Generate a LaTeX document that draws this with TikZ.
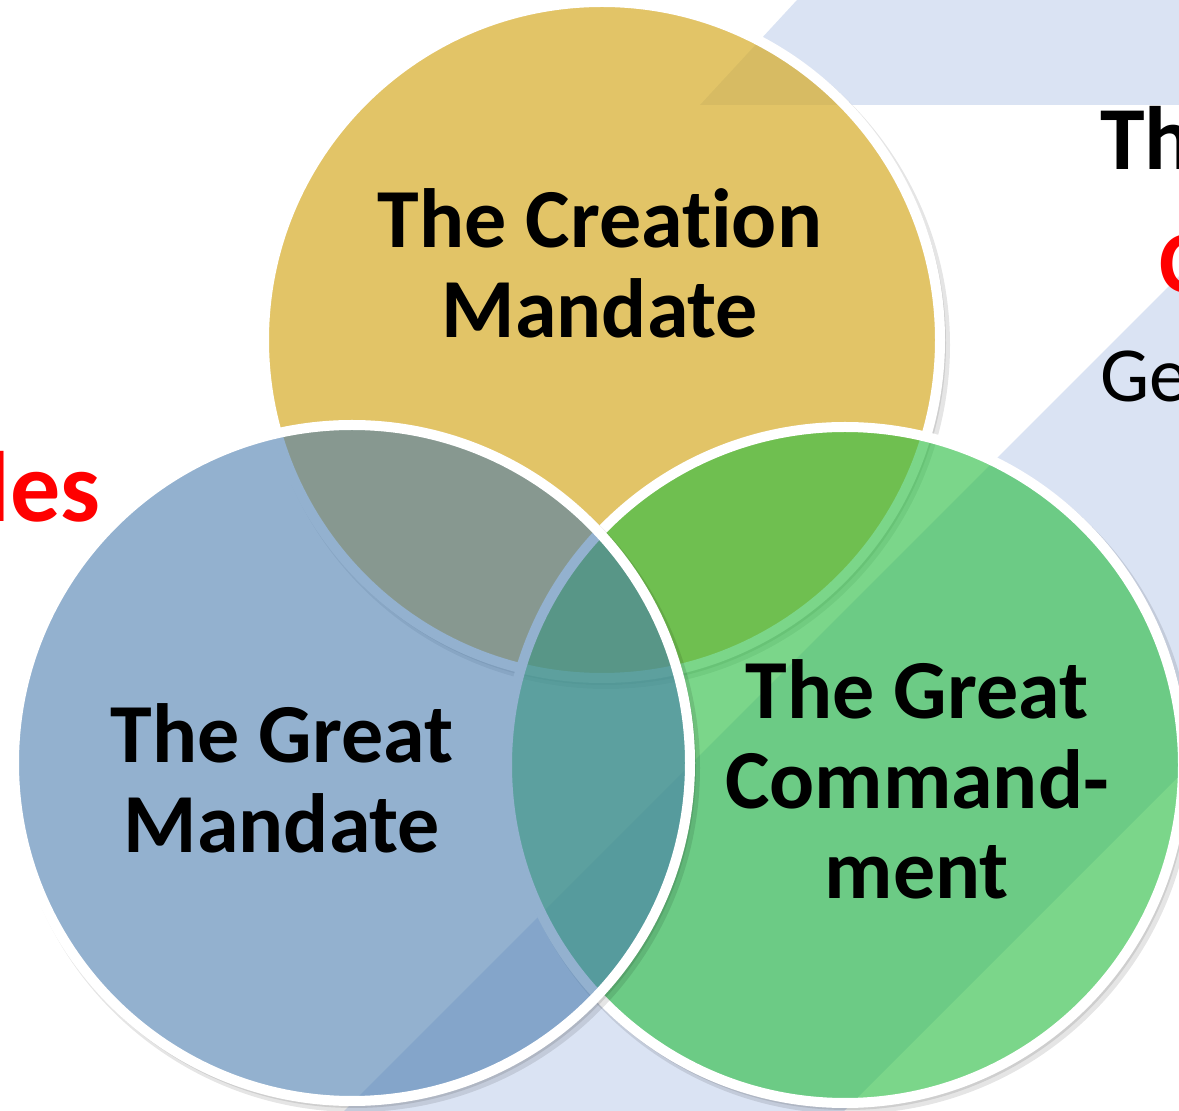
\documentclass[tikz,border=0pt]{standalone}
\usepackage{fontspec}
\setmainfont{Carlito}[Ligatures=NoCommon]
\definecolor{goldfill}{RGB}{214,171,39}
\definecolor{greenfill}{RGB}{42,189,66}
\definecolor{bluefill}{RGB}{72,123,174}
\definecolor{bandblue}{RGB}{218,227,243}
\newcommand{\ringshadow}[2]{%
  \fill[black, opacity=0.10, even odd rule] (#1+4,#2+5) circle (344) (#1,#2) circle (338);
  \fill[black, opacity=0.10, even odd rule] (#1+2,#2+3) circle (342) (#1,#2) circle (338);}

\begin{document}
\begin{tikzpicture}[x=0.5pt, y=-0.5pt]
  \tikzstyle{mandate}=[circle, draw=white, line width=5pt, minimum size=338pt, inner sep=0pt]
  \tikzstyle{caption}=[font=\fontsize{42pt}{45pt}\selectfont\bfseries, align=center, inner sep=0pt]
  \tikzstyle{cut text}=[inner sep=0pt]
  \useasboundingbox (0,0) rectangle (1179,1111);
  \clip (0,0) rectangle (1179,1111);
  % background bands
  \fill[bandblue] (700,105) -- (797,0) -- (1179,0) -- (1179,105) -- cycle;
  \fill[bandblue] (1179,276) -- (1179,776) -- (844,1111) -- (344,1111) -- cycle;
  % the three circles
  \ringshadow{602}{340}
  \node[mandate, fill=goldfill, fill opacity=.7] (creation) at (602,340) {};
  \ringshadow{845}{765}
  \node[mandate, fill=greenfill, fill opacity=.62] (commandment) at (845,765) {};
  \ringshadow{352}{763}
  \node[mandate, fill=bluefill, fill opacity=.59] (great) at (352,763) {};
  \node[caption] (creationtext) at (600,263) {The Creation\\Mandate};
  \node[caption] (greattext) at (282,778) {The Great\\Mandate};
  \node[caption] (commandtext) at (917,779) {The Great\\Command-\\ment};
  % texts cut by the frame
  \node[cut text, anchor=base west, font=\fontsize{45pt}{45pt}\selectfont\bfseries] (th) at (1100,170) {Th};
  \node[cut text, anchor=base west, text=red, font=\fontsize{44pt}{44pt}\selectfont\bfseries] (c) at (1159,293) {C};
  \node[cut text, anchor=base west, font=\fontsize{39pt}{39pt}\selectfont] (ge) at (1100,402) {Ge};
  \node[cut text, anchor=base east, text=red, font=\fontsize{50pt}{50pt}\selectfont\bfseries] (les) at (101,522) {les};
\end{tikzpicture}
\end{document}
